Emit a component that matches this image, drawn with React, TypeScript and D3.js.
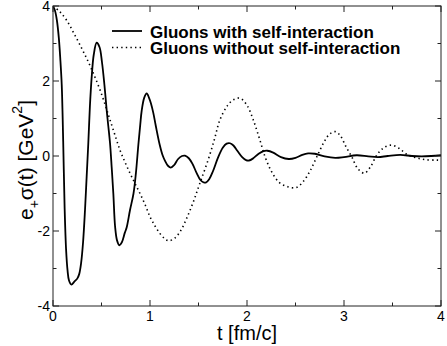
import React from "react";
import * as d3 from "d3";

const W = 447;
const H = 346;

// Solid: gluons with self-interaction
const solidT = [0, 0.02, 0.04, 0.06, 0.075, 0.09, 0.105, 0.12, 0.135, 0.15, 0.165, 0.19, 0.22, 0.25, 0.27, 0.29, 0.31, 0.33, 0.347, 0.364, 0.38, 0.399, 0.42, 0.45, 0.48, 0.505, 0.53, 0.553, 0.57, 0.588, 0.605, 0.622, 0.64, 0.66, 0.684, 0.71, 0.74, 0.76, 0.794, 0.83, 0.855, 0.88, 0.9, 0.914, 0.94, 0.966, 0.99, 1.01, 1.034, 1.06, 1.1, 1.13, 1.155, 1.185, 1.215, 1.25, 1.29, 1.33, 1.36, 1.4, 1.44, 1.48, 1.52, 1.55, 1.575, 1.61, 1.65, 1.7, 1.75, 1.79, 1.825, 1.86, 1.9, 1.95, 1.99, 2.02, 2.06, 2.12, 2.17, 2.21, 2.27, 2.35, 2.43, 2.5, 2.57, 2.63, 2.7, 2.8, 2.91, 3.0, 3.13, 3.25, 3.35, 3.45, 3.58, 3.7, 3.8, 3.9, 4.0];
const solidV = [4.0, 3.88, 3.62, 3.15, 2.6, 1.9, 0.4, -1.4, -2.5, -3.05, -3.32, -3.43, -3.35, -3.27, -3.15, -2.85, -2.3, -1.44, -0.55, 0.34, 1.3, 2.11, 2.7, 3.02, 2.9, 2.5, 1.9, 1.23, 0.8, 0.34, -0.3, -1.0, -1.88, -2.25, -2.38, -2.3, -2.05, -1.9, -1.44, -1.0, -0.45, 0.3, 0.85, 1.2, 1.55, 1.67, 1.55, 1.4, 1.15, 0.8, 0.3, 0.02, -0.13, -0.26, -0.31, -0.24, -0.08, 0.0, 0.01, -0.06, -0.22, -0.45, -0.64, -0.7, -0.71, -0.62, -0.4, -0.05, 0.22, 0.33, 0.34, 0.28, 0.14, -0.03, -0.11, -0.12, -0.07, 0.06, 0.13, 0.14, 0.09, -0.03, -0.08, -0.05, 0.03, 0.07, 0.06, -0.01, -0.05, -0.03, 0.02, -0.01, -0.03, 0.0, 0.03, 0.0, -0.01, 0.0, 0.02];

// Dotted: gluons without self-interaction
const dottedT = [0, 0.07, 0.14, 0.22, 0.3, 0.364, 0.425, 0.485, 0.54, 0.588, 0.64, 0.69, 0.74, 0.794, 0.845, 0.897, 0.95, 1.0, 1.05, 1.1, 1.15, 1.19, 1.25, 1.31, 1.38, 1.45, 1.515, 1.6, 1.67, 1.72, 1.8, 1.86, 1.93, 2.0, 2.065, 2.13, 2.186, 2.25, 2.33, 2.42, 2.51, 2.58, 2.65, 2.72, 2.79, 2.85, 2.91, 2.96, 3.02, 3.08, 3.14, 3.21, 3.27, 3.34, 3.41, 3.49, 3.57, 3.65, 3.75, 3.85, 3.96, 4.0];
const dottedV = [4.0, 3.85, 3.62, 3.25, 2.85, 2.51, 2.15, 1.76, 1.35, 0.96, 0.55, 0.16, -0.15, -0.46, -0.73, -1.0, -1.3, -1.62, -1.86, -2.06, -2.2, -2.26, -2.2, -2.02, -1.65, -1.2, -0.72, -0.1, 0.5, 0.96, 1.35, 1.5, 1.54, 1.35, 0.96, 0.45, -0.02, -0.4, -0.7, -0.82, -0.84, -0.68, -0.4, -0.02, 0.35, 0.58, 0.65, 0.55, 0.25, -0.02, -0.33, -0.46, -0.3, 0.03, 0.22, 0.29, 0.2, 0.04, -0.05, -0.1, -0.11, -0.11];

const xMajor = [0, 1, 2, 3, 4];
const xMinor = [0.5, 1.5, 2.5, 3.5];
const yMajor = [-4, -2, 0, 2, 4];
const yMinor = [-3, -1, 1, 3];

const legendLabels = ["Gluons with self-interaction", "Gluons without self-interaction"];

const FONT = "'Liberation Sans', Arial, Helvetica, sans-serif";

export default function App() {
  const L = 53, R = 441, T = 6, B = 306;
  const x = d3.scaleLinear().domain([0, 4]).range([L, R]);
  const y = d3.scaleLinear().domain([-4, 4]).range([B, T]);

  const line = d3
    .line<[number, number]>()
    .x((d) => x(d[0]))
    .y((d) => y(d[1]))
    .curve(d3.curveCatmullRom.alpha(0.5));

  const solid = line(solidT.map((t, i) => [t, solidV[i]] as [number, number])) || "";
  const dotted = line(dottedT.map((t, i) => [t, dottedV[i]] as [number, number])) || "";

  const MAJ = 6, MIN = 3.5;

  return (
    <svg width={W} height={H} style={{ position: "absolute", left: 0, top: 0, background: "#fff" }}>
      <defs>
        <clipPath id="plot">
          <rect x={L} y={T} width={R - L} height={B - T} />
        </clipPath>
      </defs>
      <rect x={0} y={0} width={W} height={H} fill="#fff" />
      <g clipPath="url(#plot)">
        <path d={dotted} fill="none" stroke="#000" strokeWidth={1.6} strokeDasharray="1.4 3.2" />
        <path d={solid} fill="none" stroke="#000" strokeWidth={1.8} />
      </g>
      {/* frame */}
      <rect x={L} y={T} width={R - L} height={B - T} fill="none" stroke="#222" strokeWidth={1} />
      {/* ticks */}
      <g stroke="#222" strokeWidth={1}>
        {xMajor.map((v) => (
          <g key={"xM" + v}>
            <line x1={x(v)} x2={x(v)} y1={B} y2={B - MAJ} />
            <line x1={x(v)} x2={x(v)} y1={T} y2={T + MAJ} />
          </g>
        ))}
        {xMinor.map((v) => (
          <g key={"xm" + v}>
            <line x1={x(v)} x2={x(v)} y1={B} y2={B - MIN} />
            <line x1={x(v)} x2={x(v)} y1={T} y2={T + MIN} />
          </g>
        ))}
        {yMajor.map((v) => (
          <g key={"yM" + v}>
            <line x1={L} x2={L + MAJ} y1={y(v)} y2={y(v)} />
            <line x1={R} x2={R - MAJ} y1={y(v)} y2={y(v)} />
          </g>
        ))}
        {yMinor.map((v) => (
          <g key={"ym" + v}>
            <line x1={L} x2={L + MIN} y1={y(v)} y2={y(v)} />
            <line x1={R} x2={R - MIN} y1={y(v)} y2={y(v)} />
          </g>
        ))}
      </g>
      {/* tick labels */}
      <g fontFamily={FONT} fontSize={14} fill="#000">
        {xMajor.map((v) => (
          <text key={"xl" + v} x={x(v)} y={B + 15} textAnchor="middle">
            {String(v)}
          </text>
        ))}
        {yMajor.map((v) => (
          <text key={"yl" + v} x={L - 3} y={y(v) + 5} textAnchor="end">
            {String(v)}
          </text>
        ))}
      </g>
      {/* axis titles */}
      <text x={(L + R) / 2} y={340} textAnchor="middle" fontFamily={FONT} fontSize={20} fill="#000">
        t [fm/c]
      </text>
      <text
        transform={`translate(33,160) rotate(-90)`}
        textAnchor="middle"
        fontFamily={FONT}
        fontSize={21}
        fill="#000"
      >
        <tspan>e</tspan>
        <tspan fontSize={14} dy={6}>+</tspan>
        <tspan dy={-6}>σ(t) [GeV</tspan>
        <tspan fontSize={14} dy={-11}>2</tspan>
        <tspan dy={11}>]</tspan>
      </text>
      {/* legend */}
      <g fontFamily={FONT} fontSize={17} fontWeight="bold" fill="#000">
        <line x1={112} x2={142} y1={31} y2={31} stroke="#000" strokeWidth={1.8} />
        <text x={150} y={37.5}>{legendLabels[0]}</text>
        <line x1={112} x2={142} y1={47.5} y2={47.5} stroke="#000" strokeWidth={1.6} strokeDasharray="1.4 3.2" />
        <text x={150} y={54}>{legendLabels[1]}</text>
      </g>
    </svg>
  );
}
